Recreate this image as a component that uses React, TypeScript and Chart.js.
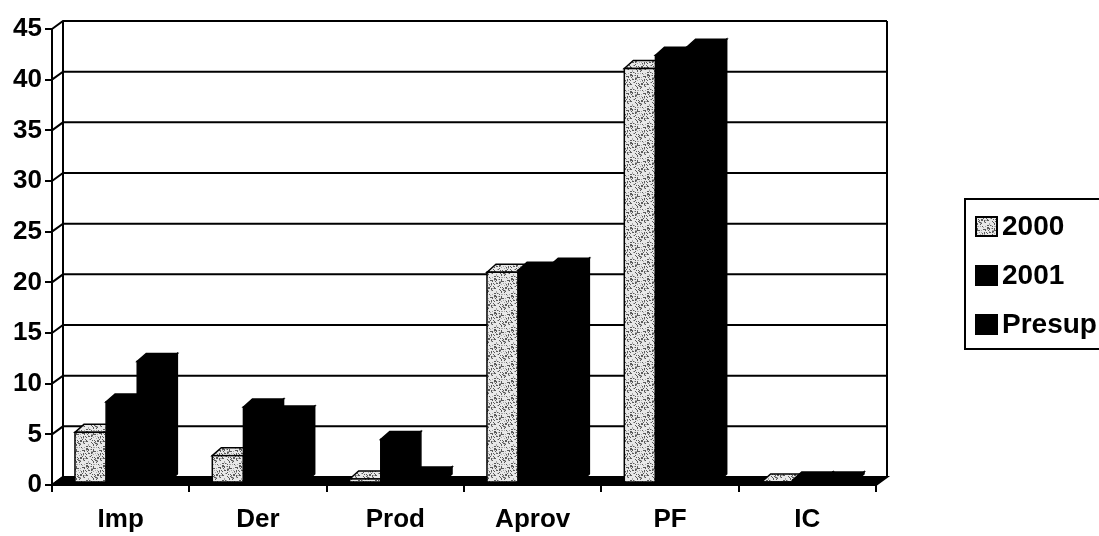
import React, { useEffect, useRef } from "react";
import { Chart, registerables } from "chart.js";

Chart.register(...registerables);

// ---- data ----
const categories = ["Imp", "Der", "Prod", "Aprov", "PF", "IC"];
const seriesNames = ["2000", "2001", "Presup"];
const values2000 = [5.0, 2.7, 0.4, 20.8, 40.9, 0.1];
const values2001 = [8.0, 7.5, 4.3, 21.0, 42.2, 0.3];
const valuesPresup = [12.0, 6.8, 0.8, 21.4, 43.0, 0.3];
const yMin = 0;
const yMax = 45;
const yStep = 5;

// ---- styling ----
const FONT = "'Liberation Sans', Arial, Helvetica, sans-serif";
const WALL_DX = 11;
const WALL_DY = 8;
const BAR_DX = 9;
const BAR_DY = 8;
const BAR_SHIFT_X = 1;
const BAR_SHIFT_Y = -2;

function makeSpeckle(): CanvasPattern | string {
  const c = document.createElement("canvas");
  c.width = 17;
  c.height = 17;
  const g = c.getContext("2d");
  if (!g) return "#c8c8c8";
  g.fillStyle = "#e8e8e8";
  g.fillRect(0, 0, 17, 17);
  for (let py = 0; py < 17; py++) {
    for (let px = 0; px < 17; px++) {
      const h = ((px * 73856093) ^ (py * 19349663) ^ 0x5bd1e995) >>> 0;
      const k = (h % 97) / 97;
      if (k < 0.2) {
        g.fillStyle = "#5a5a5a";
        g.fillRect(px, py, 1, 1);
      } else if (k < 0.3) {
        g.fillStyle = "#a8a8a8";
        g.fillRect(px, py, 1, 1);
      }
    }
  }
  const p = g.createPattern(c, "repeat");
  return p || "#c8c8c8";
}

const threeD = {
  id: "threeD",
  beforeDatasetsDraw(chart: any) {
    const { ctx, chartArea: ca, scales } = chart;
    const y = scales.y;
    ctx.save();
    ctx.strokeStyle = "#000";
    ctx.lineWidth = 2;
    ctx.lineJoin = "miter";

    // floor
    ctx.fillStyle = "#000";
    ctx.beginPath();
    ctx.moveTo(ca.left, ca.bottom);
    ctx.lineTo(ca.right, ca.bottom);
    ctx.lineTo(ca.right + WALL_DX, ca.bottom - WALL_DY);
    ctx.lineTo(ca.left + WALL_DX, ca.bottom - WALL_DY);
    ctx.closePath();
    ctx.fill();
    ctx.stroke();

    // back wall gridlines + left wall diagonals
    y.ticks.forEach((t: any) => {
      const py = y.getPixelForValue(t.value);
      ctx.beginPath();
      ctx.moveTo(ca.left, py);
      ctx.lineTo(ca.left + WALL_DX, py - WALL_DY);
      ctx.lineTo(ca.right + WALL_DX, py - WALL_DY);
      ctx.stroke();
    });
    // back wall verticals
    ctx.beginPath();
    ctx.moveTo(ca.left + WALL_DX, ca.top - WALL_DY);
    ctx.lineTo(ca.left + WALL_DX, ca.bottom - WALL_DY);
    ctx.moveTo(ca.right + WALL_DX, ca.top - WALL_DY);
    ctx.lineTo(ca.right + WALL_DX, ca.bottom - WALL_DY);
    ctx.stroke();

    // bars, drawn left to right
    const n = chart.data.labels.length;
    for (let i = 0; i < n; i++) {
      chart.data.datasets.forEach((ds: any, d: number) => {
        const meta = chart.getDatasetMeta(d);
        const el = meta.data[i];
        if (!el) return;
        const p = el.getProps(["x", "y", "base", "width"], true);
        const l = p.x - p.width / 2 + BAR_SHIFT_X;
        const r = p.x + p.width / 2 + BAR_SHIFT_X;
        const t = p.y + BAR_SHIFT_Y;
        const b = p.base + BAR_SHIFT_Y;
        const fill = ds.backgroundColor;
        const isLight = d === 0;
        ctx.lineWidth = 1.5;
        // side face
        ctx.beginPath();
        ctx.moveTo(r, t);
        ctx.lineTo(r + BAR_DX, t - BAR_DY);
        ctx.lineTo(r + BAR_DX, b - BAR_DY);
        ctx.lineTo(r, b);
        ctx.closePath();
        ctx.fillStyle = isLight ? "#8a8a8a" : "#000";
        ctx.fill();
        ctx.stroke();
        // top cap
        ctx.beginPath();
        ctx.moveTo(l, t);
        ctx.lineTo(l + BAR_DX, t - BAR_DY);
        ctx.lineTo(r + BAR_DX, t - BAR_DY);
        ctx.lineTo(r, t);
        ctx.closePath();
        ctx.fillStyle = fill;
        ctx.fill();
        ctx.stroke();
        // front face
        ctx.fillStyle = fill;
        ctx.fillRect(l, t, r - l, b - t);
        ctx.strokeRect(l, t, r - l, b - t);
      });
    }
    ctx.restore();
    return false;
  },
};

const legendBox = {
  id: "legendBox",
  afterDraw(chart: any) {
    const { ctx } = chart;
    ctx.save();
    ctx.strokeStyle = "#000";
    ctx.lineWidth = 2;
    ctx.strokeRect(965, 199, 160, 150);
    const rows = [226, 275, 324];
    ctx.font = `bold 28px ${FONT}`;
    ctx.textBaseline = "middle";
    ctx.textAlign = "left";
    chart.data.datasets.forEach((ds: any, d: number) => {
      const cy = rows[d];
      ctx.fillStyle = ds.backgroundColor;
      ctx.fillRect(976, cy - 9, 21, 19);
      ctx.lineWidth = 2;
      ctx.strokeRect(976, cy - 9, 21, 19);
      ctx.fillStyle = "#000";
      ctx.fillText(ds.label, 1002, cy + 1);
    });
    ctx.restore();
  },
};

export default function App() {
  const ref = useRef<HTMLCanvasElement | null>(null);

  useEffect(() => {
    document.body.style.margin = "0";
    document.body.style.overflow = "hidden";
    const canvas = ref.current;
    if (!canvas) return;
    const speckle = makeSpeckle();
    const chart = new Chart(canvas, {
      type: "bar",
      data: {
        labels: categories,
        datasets: [
          { label: seriesNames[0], data: values2000, backgroundColor: speckle as any },
          { label: seriesNames[1], data: values2001, backgroundColor: "#000" },
          { label: seriesNames[2], data: valuesPresup, backgroundColor: "#000" },
        ],
      },
      options: {
        responsive: false,
        animation: false,
        devicePixelRatio: 1,
        layout: { padding: { top: 29, right: 223, left: 0, bottom: 0 } },
        datasets: { bar: { categoryPercentage: 0.68, barPercentage: 1.0 } },
        plugins: {
          legend: { display: false },
          tooltip: { enabled: false },
        },
        scales: {
          x: {
            type: "category",
            offset: true,
            grid: {
              offset: true,
              drawOnChartArea: false,
              drawTicks: true,
              tickLength: 7,
              color: "#000",
              lineWidth: 2,
            },
            border: { display: true, color: "#000", width: 2 },
            ticks: {
              color: "#000",
              font: { family: FONT, size: 26, weight: "bold" },
              padding: 12,
              maxRotation: 0,
              autoSkip: false,
            },
            afterFit: (s: any) => {
              s.height = 51;
            },
          },
          y: {
            min: yMin,
            max: yMax,
            grid: {
              drawOnChartArea: false,
              drawTicks: true,
              tickLength: 7,
              color: "#000",
              lineWidth: 2,
            },
            border: { display: true, color: "#000", width: 2 },
            ticks: {
              stepSize: yStep,
              color: "#000",
              font: { family: FONT, size: 26, weight: "bold" },
              padding: 3,
            },
            afterFit: (s: any) => {
              s.width = 52;
            },
          },
        },
      },
      plugins: [threeD, legendBox],
    });
    return () => chart.destroy();
  }, []);

  return (
    <div style={{ width: 1099, height: 536 }}>
      <canvas ref={ref} width={1099} height={536} />
    </div>
  );
}
